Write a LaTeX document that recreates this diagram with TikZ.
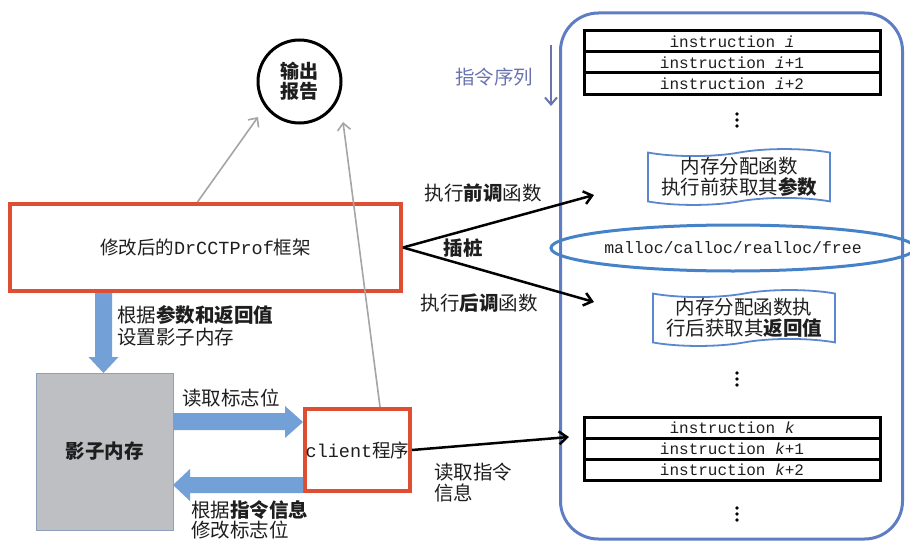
\documentclass[tikz,border=0pt]{standalone}
\usepackage{fontspec}
\setmainfont{Noto Sans CJK SC}
\newfontfamily\monof{Liberation Mono}
\usetikzlibrary{shapes.geometric,shapes.symbols,arrows.meta,calc}
\definecolor{redc}{RGB}{222,78,50}
\definecolor{bigc}{RGB}{95,125,195}
\definecolor{ellc}{RGB}{70,130,200}
\definecolor{wavec}{RGB}{90,135,205}
\definecolor{afill}{RGB}{115,160,215}
\definecolor{boxfill}{RGB}{190,191,195}
\definecolor{boxline}{RGB}{140,160,190}
\definecolor{grayc}{RGB}{165,165,165}
\definecolor{labc}{RGB}{105,115,175}
\definecolor{txt}{RGB}{30,30,30}
\begin{document}
\begin{tikzpicture}[x=1pt,y=-1pt,
  font=\fontsize{19.5pt}{21pt}\selectfont, text=txt,
  redbox/.style={draw=redc, line width=4pt, inner sep=0pt},
  instr/.style={draw=black, line width=3pt, minimum width=296pt, minimum height=21pt, inner sep=0pt, font=\monof\fontsize{16pt}{16pt}\selectfont},
  wave/.style={tape, draw=wavec, fill=white, line width=1.8pt, minimum width=182pt, minimum height=50pt, tape bend height=7pt, align=center, inner sep=1pt, font=\fontsize{19.5pt}{21.5pt}\selectfont},
  blk/.style={draw=black, line width=2.5pt, -{Straight Barb[length=8pt,width=13pt]}},
  gry/.style={draw=grayc, line width=1.6pt, -{Straight Barb[length=7pt,width=13pt]}},
  blockarrow/.style={fill=afill, draw=none},
  vdots/.style={fill=black}
]
\useasboundingbox (0,0) rectangle (910,543);

% sequence container
\node[draw=bigc, line width=3pt, rounded corners=38pt, minimum width=342pt, minimum height=526pt, inner sep=0pt] (seq) at (731.5,276) {};

% instruction rows top
\node[instr] (i1) at (732,41.5) {instruction {\itshape i}};
\node[instr] (i2) at (732,62.5) {instruction {\itshape i}+1};
\node[instr] (i3) at (732,83.5) {instruction {\itshape i}+2};

% instruction rows bottom
\node[instr] (k1) at (732,427.5) {instruction {\itshape k}};
\node[instr] (k2) at (732,448.5) {instruction {\itshape k}+1};
\node[instr] (k3) at (732,469.5) {instruction {\itshape k}+2};

% vertical dots
\foreach \yy in {120,379,514}{
  \fill[vdots] (737,\yy-6) circle (1.9pt);
  \fill[vdots] (737,\yy) circle (1.9pt);
  \fill[vdots] (737,\yy+6) circle (1.9pt);
}

% wavy boxes
\node[wave] (w1) at (739,177) {内存分配函数\\执行前获取其\textbf{参数}};
\node[wave] (w2) at (744,318) {内存分配函数执\\行后获取其\textbf{返回值}};

% ellipse
\node[ellipse, draw=ellc, line width=3pt, minimum width=354pt, minimum height=46pt, inner sep=0pt, font=\monof\fontsize{16.5pt}{16.5pt}\selectfont] (ell) at (733,248) {malloc/calloc/realloc/free};

% sequence label and arrow
\node[text=labc] (seqlab) at (494,77) {指令序列};
\coordinate (sa1) at (551,45);
\coordinate (sa2) at (551,106);
\draw[draw=labc, line width=2pt, -{Straight Barb[length=7pt,width=12pt]}] (sa1) -- (sa2);

% output report circle
\node[circle, draw=black, line width=3pt, minimum size=83pt, inner sep=0pt, align=center, font=\bfseries\fontsize{19pt}{20pt}\selectfont] (out) at (299.5,81.5) {输出\\报告};

% framework box
\node[redbox, minimum width=391pt, minimum height=87pt, font=\fontsize{18.5pt}{21pt}\selectfont] (fw) at (205.5,247.5) {修改后的{\monof DrCCTProf}框架};

% shadow memory
\node[draw=boxline, fill=boxfill, line width=1pt, minimum width=137pt, minimum height=157pt, inner sep=0pt, font=\bfseries\fontsize{19.5pt}{21pt}\selectfont] (shm) at (104.5,451.5) {影子内存};

% client box
\node[redbox, minimum width=105pt, minimum height=82pt, font=\fontsize{18.5pt}{21pt}\selectfont] (cl) at (357.5,450) {{\monof client}程序};

% gray arrows to output
\coordinate (t1) at (258,117);
\coordinate (t2) at (343,122);
\draw[gry] ([xshift=-8pt]fw.north) -- (t1);
\draw[gry] ([xshift=22.5pt]cl.north) -- (t2);

% black arrows
\coordinate (a1) at (594,195);
\coordinate (a2) at (594,302);
\coordinate (a3) at (569,437);
\draw[blk] (fw.east) -- (a1);
\draw[blk] (fw.east) -- (a2);
\draw[blk] (cl.east) -- (a3);

\node (lab1) at (483,193) {执行\textbf{前调}函数};
\node (lab2) at (479,303) {执行\textbf{后调}函数};
\node[font=\bfseries\fontsize{19.5pt}{21pt}\selectfont] (lab3) at (463,248) {插桩};
\node[anchor=west, align=left, inner sep=0pt] (lab4) at (434,483) {读取指令\\信息};

% block arrows
\fill[blockarrow] (95,293) -- (112,293) -- (112,357) -- (118.5,357) -- (103.5,373) -- (88.5,357) -- (95,357) -- cycle;
\fill[blockarrow] (173,413) -- (285,413) -- (285,406) -- (303,422) -- (285,438) -- (285,430) -- (173,430) -- cycle;
\fill[blockarrow] (303,477) -- (190,477) -- (190,469) -- (173,485) -- (190,501) -- (190,493) -- (303,493) -- cycle;

\node[anchor=west, align=left, inner sep=0pt, font=\fontsize{19.5pt}{22pt}\selectfont] (lab5) at (117,326) {根据\textbf{参数和返回值}\\设置影子内存};
\node (lab6) at (231,398) {读取标志位};
\node[anchor=west, align=left, inner sep=0pt, font=\fontsize{19.5pt}{20pt}\selectfont] (lab7) at (191,520) {根据\textbf{指令信息}\\修改标志位};
\end{tikzpicture}
\end{document}
